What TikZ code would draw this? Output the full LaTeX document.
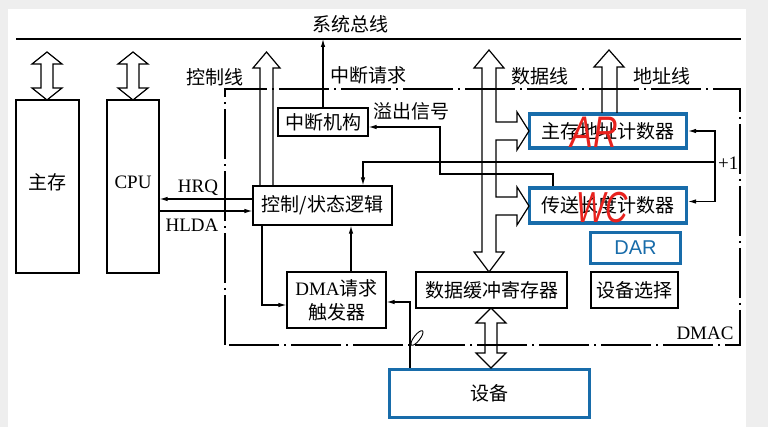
\documentclass[tikz,border=0pt]{standalone}
\usepackage{graphicx}
\usepackage{fontspec}
\setmainfont{Liberation Serif}
\newfontfamily\cjk{Noto Sans CJK SC}
\newfontfamily\arial{Liberation Sans}
\usetikzlibrary{arrows.meta}
\definecolor{boxblue}{RGB}{24,108,170}
\definecolor{pen}{RGB}{232,34,30}
\definecolor{bggray}{RGB}{238,238,238}
\tikzset{
  box/.style={draw, line width=1.2pt, inner sep=0pt, align=center, font=\cjk\fontsize{19}{22}\selectfont},
  bluebox/.style={draw=boxblue, line width=3.2pt, inner sep=0pt, align=center, font=\cjk\fontsize{19}{22}\selectfont},
  lbl/.style={font=\cjk\fontsize{19}{22}\selectfont, inner sep=0pt},
  latin/.style={font=\fontsize{19}{22}\selectfont, inner sep=0pt},
  arr/.style={line width=1.1pt, -{Latex[length=8pt,width=4.5pt]}},
  wire/.style={line width=1.1pt},
  hollow/.style={line width=1.2pt, line join=miter},
  dmacline/.style={line width=1.1pt, dash pattern=on 50pt off 5pt on 2pt off 5pt},
  redtxt/.style={text=pen, font=\arial\itshape\fontsize{34}{36}\selectfont, inner sep=0pt}
}
\begin{document}
\begin{tikzpicture}[x=1pt,y=-1pt]
\useasboundingbox (0,0) rectangle (768,427);
\fill[bggray] (0,0) rectangle (768,427);
\fill[white] (8,9) rectangle (746,427);

% system bus
\coordinate (busL) at (16,39);
\coordinate (busR) at (741,39);
\draw[line width=2pt] (busL) -- (busR);
\node[lbl] (bustxt) at (350,24) {系统总线};

% DMAC boundary
\draw[dmacline] (225,345) -- (225,89) -- (740,89) -- (740,345) -- cycle;
\node[latin] (dmactxt) at (705,333) {DMAC};

% nodes
\node[box, minimum width=63pt, minimum height=173pt] (mem) at (47.5,186.5) {};
\node[lbl] (memtxt) at (47.5,182) {主存};
\node[box, minimum width=52pt, minimum height=173pt] (cpu) at (133,186.5) {};
\node[latin] (cputxt) at (133,182) {CPU};
\node[box, minimum width=90pt, minimum height=28pt] (zd) at (323,122) {中断机构};
\node[box, minimum width=139pt, minimum height=39pt] (ctl) at (322.5,205.5) {控制/状态逻辑};
\node[box, minimum width=99pt, minimum height=56pt, font=\fontsize{19}{24}\selectfont] (dma) at (336.5,300) {DMA{\cjk 请求}\\{\cjk 触发器}};
\node[box, minimum width=151pt, minimum height=36pt] (buf) at (491.5,290) {数据缓冲寄存器};
\node[bluebox, minimum width=157pt, minimum height=34pt] (ar) at (608,131) {主存地址计数器};
\node[bluebox, minimum width=157pt, minimum height=35pt] (wc) at (608,205.5) {传送长度计数器};
\node[bluebox, minimum width=90pt, minimum height=31pt, text=boxblue, font=\arial\fontsize{20}{22}\selectfont] (dar) at (635.5,248) {DAR};
\node[box, minimum width=87pt, minimum height=36pt] (sel) at (634.5,290) {设备选择};
\node[bluebox, minimum width=200pt, minimum height=48pt] (dev) at (489.5,393.5) {设备};

% red handwriting
\node[redtxt] (artxt) at (594,132) {\scalebox{1}[1.3]{AR}};
\node[redtxt, font=\arial\itshape\fontsize{31}{34}\selectfont] (wctxt) at (602,208) {\scalebox{1}[1.4]{WC}};

% hollow arrows: main memory and CPU
\draw[hollow] (47,52) -- (62,64) -- (53,64) -- (53,88) -- (62,88) -- (47,100) -- (32,88) -- (41,88) -- (41,64) -- (32,64) -- cycle;
\draw[hollow] (133,52) -- (148,64) -- (139,64) -- (139,88) -- (148,88) -- (133,100) -- (118,88) -- (127,88) -- (127,64) -- (118,64) -- cycle;

% control line
\draw[hollow] (260,186) -- (260,68) -- (253,68) -- (266.5,52) -- (280,68) -- (273,68) -- (273,186);
\node[lbl] (ctltxt) at (215,77) {控制线};

% data line
\draw[hollow] (489,50) -- (504,68) -- (496,68) -- (496,122) -- (517,122) -- (517,112) -- (529,131) -- (517,150) -- (517,140) -- (496,140)
  -- (496,197) -- (517,197) -- (517,187) -- (529,206) -- (517,225) -- (517,215) -- (496,215) -- (496,252) -- (504,252) -- (489,272)
  -- (474,252) -- (482,252) -- (482,68) -- (474,68) -- cycle;
\node[lbl] (datatxt) at (540,76) {数据线};

% address line
\draw[hollow] (602,113) -- (602,67) -- (594,67) -- (609,50) -- (624,67) -- (617,67) -- (617,113);
\node[lbl] (addrtxt) at (662,76) {地址线};

% device <-> buffer
\draw[hollow] (491,308) -- (506,323) -- (497,323) -- (497,353) -- (506,353) -- (491,368) -- (476,353) -- (485,353) -- (485,323) -- (476,323) -- cycle;

% interrupt request
\draw[arr] (zd.north) -- (zd.north |- busL);
\node[lbl] (irqtxt) at (368,75) {中断请求};

% HRQ / HLDA
\path ([yshift=6.5pt]ctl.west) coordinate (hrqA);
\path ([yshift=-5.5pt]ctl.west) coordinate (hldaA);
\draw[arr] (hrqA) -- (hrqA -| cpu.east);
\draw[arr] (hldaA -| cpu.east) -- (hldaA);
\node[latin] (hrqtxt) at (198,188) {HRQ};
\node[latin] (hldatxt) at (192,225) {HLDA};

% overflow signal
\path ([xshift=-55pt]wc.north) coordinate (wcT);
\coordinate (o1) at (440,174);
\path ([yshift=-5pt]zd.east) coordinate (zdE);
\draw[arr] (wcT) |- (o1) |- (zdE);
\node[lbl] (ovftxt) at (411,111) {溢出信号};

% +1 loop
\coordinate (p1) at (715,162);
\path ([yshift=4pt]wc.east) coordinate (wcR);
\path ([xshift=40.5pt]ctl.north) coordinate (ctlT);
\draw[arr] (p1) |- (ar.east);
\draw[arr] (p1) |- (wcR);
\draw[arr] (p1) -| (ctlT);
\node[latin, anchor=west] (plus1) at (718,163) {+1};

% DMA request trigger links
\path ([xshift=14.5pt]dma.north) coordinate (dmaN);
\draw[arr] (dmaN) -- (dmaN |- ctl.south);
\path ([xshift=-60.5pt]ctl.south) coordinate (ctlB);
\path ([yshift=-5pt]dma.west) coordinate (dmaW);
\draw[arr] (ctlB) |- (dmaW);
\path ([xshift=-79.5pt]dev.north) coordinate (devT);
\path ([yshift=-2pt]dma.east) coordinate (dmaE);
\draw[arr] (devT) |- (dmaE);

% pencil cursor
\draw[line width=0.9pt, rotate around={52:(417,338)}] (417,338) ellipse [x radius=9pt, y radius=3pt];
\end{tikzpicture}
\end{document}
